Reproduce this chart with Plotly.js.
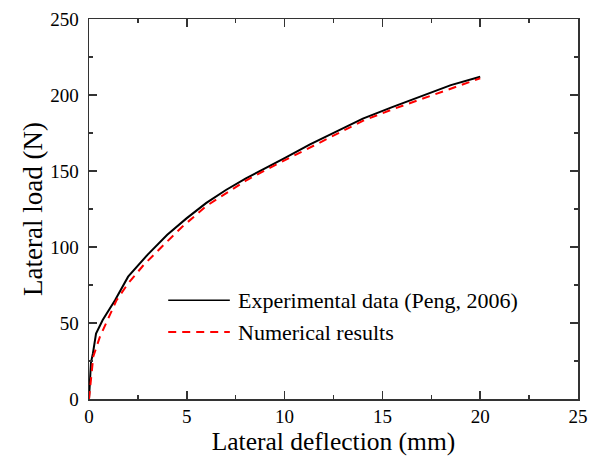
<!DOCTYPE html>
<html>
<head>
<meta charset="utf-8">
<script src="https://cdn.plot.ly/plotly-3.0.1.min.js"></script>
<style>html,body{margin:0;padding:0;background:#fff;}#chart{width:612px;height:456px;}</style>
</head>
<body>
<div id="chart"></div>
<script>
// Experimental data (Peng, 2006)
const expX = [0, 0.05, 0.1, 0.2, 0.36, 0.7, 1.33, 2.0, 3.0, 4.0, 5.0, 6.0, 7.0, 8.0, 9.0, 10, 11.3, 12.5, 14, 15.5, 17, 18.5, 20];
const expY = [0, 10, 24, 30, 43, 52, 65, 80.5, 95, 108, 119, 129, 137.5, 145, 152, 158.5, 167.5, 175, 184.5, 192, 199, 206.5, 212];
// Numerical results
const numX = [0, 0.1, 0.22, 0.56, 1.0, 1.41, 2.0, 2.78, 3.71, 4.74, 6, 7, 8, 9, 10, 11.3, 12.5, 14, 15.5, 17, 18.5, 20];
const numY = [0, 12, 28, 41, 53, 65, 76, 88, 100, 113, 127, 135.5, 143.5, 150.5, 157, 166, 173.5, 183, 190.5, 197.5, 204.5, 211];
const seriesNames = ["Experimental data (Peng, 2006)", "Numerical results"];
const xTicks = [0, 5, 10, 15, 20, 25];
const yTicks = [0, 50, 100, 150, 200, 250];

const font = "Liberation Serif";
const axColor = "#333";

const traces = [
  {x: expX, y: expY, name: seriesNames[0], type: "scatter", mode: "lines",
   line: {color: "#000", width: 2}},
  {x: numX, y: numY, name: seriesNames[1], type: "scatter", mode: "lines",
   line: {color: "#ff0000", width: 2, dash: "8px,6px"}}
];

function axis(range, ticks, minorDtick, title, titleSize, standoff, labelStandoff) {
  return {
    range: range, tickmode: "array", tickvals: ticks, ticktext: ticks.map(String),
    showline: true, linecolor: axColor, linewidth: 1.5, mirror: "allticks",
    ticks: "inside", ticklen: 8, tickwidth: 1.5, tickcolor: axColor,
    ticklabelstandoff: labelStandoff,
    minor: {ticks: "inside", ticklen: 4, tickwidth: 1.5, tickcolor: axColor, dtick: minorDtick, tick0: 0, showgrid: false},
    showgrid: false, zeroline: false,
    tickfont: {family: font, size: 19, color: "#000"},
    title: {text: title, font: {family: font, size: titleSize, color: "#000"}, standoff: standoff}
  };
}

const legendY0 = 0.26, legendDy = 0.084;
const shapes = [
  {type: "line", xref: "paper", yref: "paper", x0: 0.162, x1: 0.288, y0: legendY0, y1: legendY0,
   line: {color: "#000", width: 1.5}},
  {type: "line", xref: "paper", yref: "paper", x0: 0.162, x1: 0.288, y0: legendY0 - legendDy, y1: legendY0 - legendDy,
   line: {color: "#ff0000", width: 2, dash: "8px,6px"}}
];
const annotations = seriesNames.map((n, i) => ({
  xref: "paper", yref: "paper", x: 0.3, y: legendY0 - i * legendDy, xanchor: "left", yanchor: "middle",
  text: n, showarrow: false, font: {family: font, size: 22, color: "#000"}
}));

const layout = {
  width: 612, height: 456,
  margin: {l: 89, r: 34, t: 19, b: 57},
  paper_bgcolor: "#fff", plot_bgcolor: "#fff",
  showlegend: false,
  xaxis: axis([0, 25], xTicks, 2.5, "Lateral deflection (mm)", 25.5, 0, 0),
  yaxis: axis([0, 250], yTicks, 25, "Lateral load (N)", 27, 0, 5),
  shapes: shapes, annotations: annotations
};

Plotly.newPlot("chart", traces, layout, {staticPlot: true, displayModeBar: false});
</script>
</body>
</html>
